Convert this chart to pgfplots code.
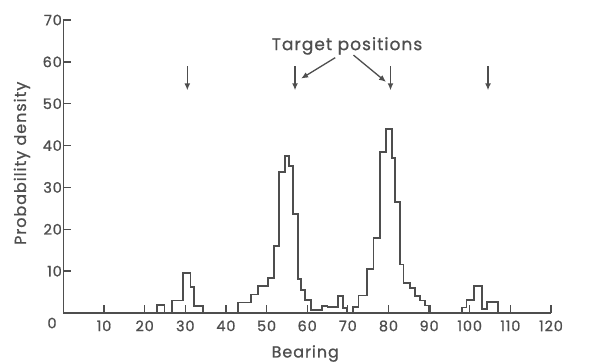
\documentclass[border=0pt]{standalone}
\usepackage{fontspec}
\setmainfont{Poppins}[FakeBold=0.9, LetterSpace=6]
\usepackage{pgfplots}
\pgfplotsset{compat=1.18}
\usetikzlibrary{arrows.meta}
\definecolor{ink}{RGB}{78,78,78}
\begin{document}
\begin{tikzpicture}
\begin{axis}[
  scale only axis, width=487.6pt, height=293pt,
  xmin=0, xmax=120, ymin=0, ymax=70,
  axis lines*=left,
  axis line style={ink, line width=1.6pt, -},
  tick style={ink, line width=1.3pt},
  major tick length=8pt, tick align=inside,
  xtick={0,10,...,120}, ytick={10,20,...,70},
  xticklabels={,10,20,30,40,50,60,70,80,90,100,110,120},
  /pgf/number format/assume math mode=true,
  ticklabel style={font=\fontsize{14.5}{16}\selectfont, text=ink},
  xticklabel style={yshift=-4pt},
  yticklabel style={xshift=2pt},
  clip=false,
]
\addplot[const plot, ink, line width=1.8pt, line join=miter] coordinates {
  (20,0) (23.1,2.0) (24.9,0) (26.7,3.0) (29.5,9.5) (31.3,6.2) (32.2,1.6) (34.3,0)
  (42.9,2.5) (46.2,4.4) (47.8,6.4) (50.3,8.4) (51.8,16.0) (53.1,33.7) (54.6,37.5)
  (55.6,35.2) (56.6,23.7) (57.7,8.2) (58.4,5.5) (59.4,3.2) (60.9,0.7) (63.6,1.7)
  (65.0,1.4) (67.5,4.0) (68.9,1.2) (69.8,0) (71.3,1.5) (72.6,4.2) (74.7,10.6)
  (76.3,18.0) (78.0,38.5) (79.4,44.0) (80.9,37.0) (81.7,26.5) (82.9,11.6) (83.7,7.2)
  (85.3,6.0) (86.6,4.0) (87.8,3.0) (89.0,1.8) (90.3,0)
  (98.1,1.3) (99.2,3.1) (101.0,6.5) (103.0,1.0) (104.2,2.7) (106.9,0) (110,0)
};
% target arrows
\pgfplotsinvokeforeach{30.5,57,80.5,104.5}{
  \draw[ink, line width=1.4pt, -{Latex[length=7pt,width=6pt]}] (axis cs:#1,59) -- (axis cs:#1,53.2);
}
\node[text=ink, font=\fontsize{17}{19}\selectfont] at (axis cs:69.8,63.8) {Target positions};
\draw[ink, line width=1.3pt, -{Latex[length=7pt,width=6pt]}] (axis cs:66.9,61.0) -- (axis cs:58.5,56.0);
\draw[ink, line width=1.3pt, -{Latex[length=7pt,width=6pt]}] (axis cs:71.4,61.6) -- (axis cs:79.4,55.2);
% labels
\node[text=ink, rotate=90, font=\fontsize{16}{18}\selectfont] at (rel axis cs:-0.085,0.511) {Probability density};
\node[text=ink, font=\fontsize{16}{18}\selectfont, anchor=south, inner sep=0pt] at (rel axis cs:0.496,-0.1672) {Bearing};
\node[text=ink, font=\fontsize{14.5}{16}\selectfont] at (axis cs:-2.8,-2.4) {0};
\end{axis}
\pgfresetboundingbox
\useasboundingbox ([shift={(-63.4pt,-49pt)}]current axis.south west) rectangle ([shift={(40pt,20pt)}]current axis.north east);
\end{tikzpicture}
\end{document}
